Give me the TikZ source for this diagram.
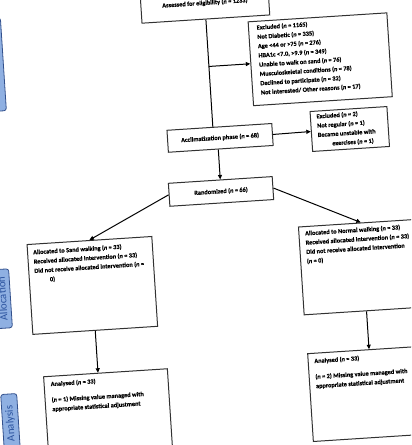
\documentclass[tikz,border=0pt]{standalone}
\usepackage{fontspec}
\setmainfont{Carlito}[BoldFeatures={FakeBold=0.4},BoldItalicFeatures={FakeBold=0.4}]
\usetikzlibrary{arrows.meta,calc}
\definecolor{labfill}{RGB}{143,176,226}
\definecolor{labdraw}{RGB}{50,80,140}
\definecolor{labtext}{RGB}{45,85,160}
\definecolor{boxline}{RGB}{50,50,50}
\begin{document}
\begin{tikzpicture}[x=1bp,y=-1bp,
  box/.style={draw=boxline, line width=1bp, inner sep=0pt, fill=white,
    font=\fontsize{6.3bp}{9.3bp}\selectfont\bfseries},
  txt/.style={font=\fontsize{6.3bp}{9.3bp}\selectfont\bfseries, align=left,
    inner sep=0pt, anchor=north west},
  ln/.style={draw=black, line width=1bp},
  arr/.style={draw=black, line width=1bp, -{Triangle[length=4.5bp,width=4bp]}},
  lab/.style={draw=labdraw, fill=labfill, line width=0.8bp, rounded corners=2.5bp,
    inner sep=0pt, text=labtext, font=\fontsize{11bp}{13bp}\selectfont}]
\useasboundingbox (0,0) rectangle (411,445);
\clip (0,0) rectangle (411,445);
\begin{scope}[rotate around={3.7:(205.5,222.5)}, transform shape]
  % side labels
  \node[lab, minimum width=24bp, minimum height=93bp] (enrL) at (2,51.5) {};
  \node[lab, rotate=90, minimum width=59bp, minimum height=16bp] (allocL) at (-2,285.5) {Allocation};
  \node[lab, rotate=90, minimum width=59bp, minimum height=16bp] (anaL) at (-2,410.5) {Analysis};
  % boxes
  \node[box, minimum width=128bp, minimum height=32bp] (top) at (219,3.5) {Assessed for eligibility (\textit{n} = 1233)};
  \node[box, minimum width=139bp, minimum height=84bp] (excl) at (330.5,67) {};
  \node[box, minimum width=105bp, minimum height=22bp] (acclim) at (225.5,139) {Acclimatization phase (\textit{n} = 68)};
  \node[box, minimum width=77bp, minimum height=40bp] (excl2) at (355.5,138.5) {};
  \node[box, minimum width=104bp, minimum height=23bp] (rand) at (223,192.5) {Randomized (\textit{n} = 66)};
  \node[box, minimum width=125bp, minimum height=90bp] (lalloc) at (88.5,278) {};
  \node[box, minimum width=125bp, minimum height=88bp] (ralloc) at (360.5,277) {};
  \node[box, minimum width=124bp, minimum height=90bp] (lana) at (96,411) {};
  \node[box, minimum width=125bp, minimum height=88bp] (rana) at (361.5,404) {};
  % texts
  \node[txt] (exclT) at (269,28.5) {Excluded (\textit{n} = 1165)\\Not Diabetic (\textit{n} = 335)\\Age <44 or >75 (\textit{n} = 276)\\HBA1c <7.0, >9.9 (\textit{n} = 349)\\Unable to walk on sand (\textit{n} = 76)\\Musculoskeletal conditions (\textit{n} = 78)\\Declined to participate (\textit{n} = 32)\\Not interested/ Other reasons (\textit{n} = 17)};
  \node[txt] (excl2T) at (323,121) {Excluded (\textit{n} = 2)\\Not regular (\textit{n} = 1)\\Became unstable with\\\hspace*{14bp}exercises (\textit{n} = 1)};
  \node[txt] (lallocT) at (31.4,238.4) {Allocated to Sand walking (\textit{n} = 33)\\Received allocated intervention (\textit{n} = 33)\\Did not receive allocated intervention (\textit{n} =\\\hspace*{15bp}0)};
  \node[txt] (rallocT) at (304,237) {Allocated to Normal walking (\textit{n} = 33)\\Received allocated intervention (\textit{n} = 33)\\Did not receive allocated intervention\\(\textit{n} = 0)};
  \node[txt] (lanaT) at (40.4,371) {Analysed (\textit{n} = 33)\\[6.5bp](\textit{n} = 1) Missing value managed with\\appropriate statistical adjustment};
  \node[txt] (ranaT) at (305,365) {Analysed (\textit{n} = 33)\\[6.5bp](\textit{n} = 2) Missing value managed with\\appropriate statistical adjustment};
  % connectors
  \coordinate (tIn) at ($(acclim.north west)!(top.south)!(acclim.north east)$);
  \draw[ln] (top.south) -- (tIn);
  \draw[arr] ($(top.south)!(excl.west)!(tIn)$) -- (excl.west);
  \draw[arr] (acclim.east) -- (excl2.west);
  \draw[arr] ($(acclim.south west)!(rand.north)!(acclim.south east)$) -- (rand.north);
  \draw[arr] (rand.west) -- (lalloc.north);
  \draw[arr] (rand.east) -- (ralloc.north);
  \draw[arr] (lalloc.south) -- ($(lana.north west)!(lalloc.south)!(lana.north east)$);
  \draw[arr] (ralloc.south) -- ($(rana.north west)!(ralloc.south)!(rana.north east)$);
\end{scope}
\end{tikzpicture}
\end{document}
